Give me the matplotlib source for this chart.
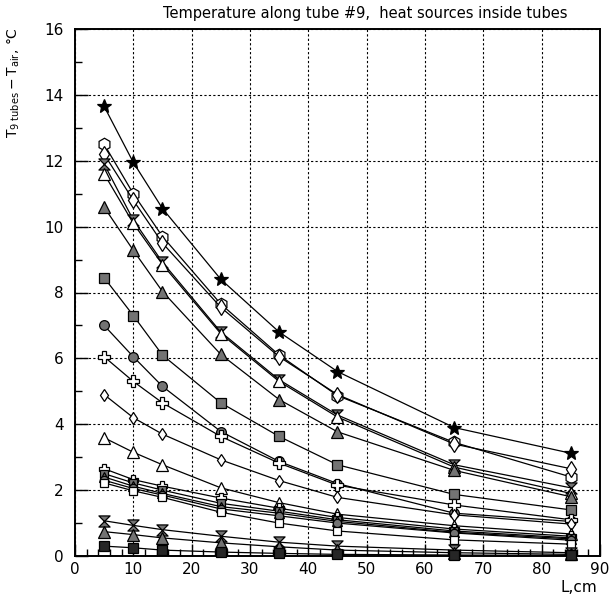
import matplotlib
matplotlib.use('Agg')
import matplotlib.pyplot as plt
from matplotlib.path import Path
from matplotlib.ticker import MultipleLocator

# distance along the tube, cm
L = [5, 10, 15, 25, 35, 45, 65, 85]

# temperature rise for each heat-source configuration
t_star = [13.65, 11.95, 10.55, 8.4, 6.8, 5.6, 3.9, 3.12]
t_hex = [12.5, 11.0, 9.7, 7.65, 6.1, 4.87, 3.45, 2.4]
t_diam = [12.2, 10.8, 9.5, 7.55, 6.05, 4.9, 3.4, 2.65]
t_hglass = [11.9, 10.2, 8.92, 6.8, 5.35, 4.28, 2.77, 2.07]
t_tri = [11.6, 10.1, 8.85, 6.75, 5.3, 4.22, 2.7, 1.9]
t_tri_h = [10.59, 9.28, 8.03, 6.12, 4.75, 3.77, 2.6, 1.8]
t_sq_h = [8.45, 7.3, 6.1, 4.65, 3.63, 2.77, 1.87, 1.4]
t_circ_h = [7.0, 6.05, 5.15, 3.78, 2.87, 2.2, 1.3, 1.05]
t_plus = [6.05, 5.3, 4.65, 3.63, 2.82, 2.15, 1.55, 1.1]
t_diam_s = [4.9, 4.2, 3.7, 2.92, 2.29, 1.78, 1.25, 0.97]
t_tri_2 = [3.59, 3.15, 2.77, 2.07, 1.62, 1.27, 0.92, 0.67]
t_plus_2 = [2.65, 2.32, 2.12, 1.76, 1.45, 1.17, 0.82, 0.6]
t_sq_h2 = [2.5, 2.22, 2.0, 1.6, 1.36, 1.1, 0.76, 0.55]
t_tri_h2 = [2.4, 2.12, 1.9, 1.5, 1.3, 1.05, 0.72, 0.52]
t_circ_h2 = [2.3, 2.05, 1.85, 1.43, 1.22, 1.0, 0.7, 0.48]
t_sq_2 = [2.22, 1.98, 1.78, 1.33, 1.0, 0.76, 0.49, 0.36]
t_hglass_2 = [1.07, 0.93, 0.8, 0.6, 0.42, 0.3, 0.18, 0.1]
t_tri_h3 = [0.74, 0.65, 0.55, 0.4, 0.28, 0.18, 0.1, 0.05]
t_sq_f = [0.3, 0.25, 0.18, 0.12, 0.08, 0.05, 0.03, 0.02]

hourglass = Path([(-1, 1), (1, 1), (-1, -1), (1, -1), (-1, 1)],
                 [Path.MOVETO, Path.LINETO, Path.LINETO, Path.LINETO, Path.CLOSEPOLY])

HATCH = '0.45'
series = [
    (t_star, '*', 'black', 10),
    (t_hex, 'h', 'white', 9),
    (t_diam, 'd', 'white', 8),
    (t_hglass, hourglass, HATCH, 8),
    (t_tri, '^', 'white', 9),
    (t_tri_h, '^', HATCH, 8),
    (t_sq_h, 's', HATCH, 7),
    (t_circ_h, 'o', HATCH, 7),
    (t_plus, 'P', 'white', 8),
    (t_diam_s, 'd', 'white', 6),
    (t_tri_2, '^', 'white', 9),
    (t_plus_2, 'P', 'white', 7),
    (t_sq_h2, 's', HATCH, 6),
    (t_tri_h2, '^', HATCH, 7),
    (t_circ_h2, 'o', HATCH, 6),
    (t_sq_2, 's', 'white', 6),
    (t_hglass_2, hourglass, HATCH, 8),
    (t_tri_h3, '^', HATCH, 8),
    (t_sq_f, 's', '0.15', 7),
]

fig = plt.figure(figsize=(6.11, 6.0), dpi=100)
ax = fig.add_axes([0.1227, 0.0733, 0.8593, 0.8784])

for y, m, fc, ms in series:
    ax.plot(L, y, color='black', lw=0.9, marker=m, ms=ms, mfc=fc,
            mec='black', mew=0.9, zorder=3, clip_on=False)

ax.set_xlim(0, 90)
ax.set_ylim(0, 16)
ax.xaxis.set_major_locator(MultipleLocator(10))
ax.xaxis.set_minor_locator(MultipleLocator(2))
ax.yaxis.set_major_locator(MultipleLocator(2))
ax.yaxis.set_minor_locator(MultipleLocator(1))
ax.tick_params(which='major', direction='in', length=9, width=1, labelsize=11)
ax.tick_params(axis='x', which='major', pad=4)
ax.tick_params(axis='y', which='major', pad=8)
ax.tick_params(which='minor', direction='in', length=5, width=1)
ax.grid(True, which='major', color='black', linestyle=(0, (2, 2)), lw=0.8)
for s in ax.spines.values():
    s.set_linewidth(1.4)

fig.text(0.598, 0.978, 'Temperature along tube #9,  heat sources inside tubes',
         ha='center', va='center', fontsize=10.5)
fig.text(0.978, 0.02, 'L,cm', ha='right', va='center', fontsize=11)
fig.text(0.022, 0.955, r'$\mathrm{T_{9\ tubes}-T_{air}}$, °C', rotation=90,
         ha='center', va='top', fontsize=10)

fig.savefig('out.png', dpi=100)
